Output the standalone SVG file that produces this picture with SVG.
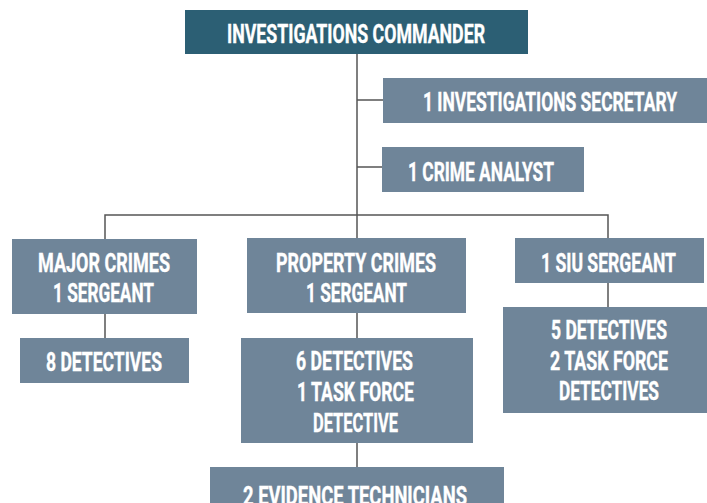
<svg xmlns="http://www.w3.org/2000/svg" width="707" height="503" viewBox="0 0 707 503">
<style>
.box{fill:#6f8599}
.top{fill:#2c5f74}
.t{font-family:Roboto,"Liberation Sans",sans-serif;font-weight:bold;font-size:26px;fill:#ffffff;stroke:#ffffff;stroke-width:0.4}
.ln{stroke:#555555;stroke-width:1.5;fill:none}
</style>
<rect width="707" height="503" fill="#ffffff"/>
<g id="connectors">
<path class="ln" d="M357 54 V215"/>
<path class="ln" d="M357 100 H383"/>
<path class="ln" d="M357 167 H382"/>
<path class="ln" d="M105 239 V215 H608 V238"/>
<path class="ln" d="M357 215 V238"/>
<path class="ln" d="M105 314 V338"/>
<path class="ln" d="M357 313 V338"/>
<path class="ln" d="M357 443 V467"/>
<path class="ln" d="M608 283 V307"/>
</g>
<g id="commander">
<rect class="top" x="185" y="10" width="343" height="44"/>
<text class="t" x="227" y="43" textLength="258" lengthAdjust="spacingAndGlyphs">INVESTIGATIONS COMMANDER</text>
</g>
<g id="secretary">
<rect class="box" x="383" y="78" width="324" height="45"/>
<text class="t" x="423" y="111" textLength="254" lengthAdjust="spacingAndGlyphs">1 INVESTIGATIONS SECRETARY</text>
</g>
<g id="analyst">
<rect class="box" x="382" y="147" width="202" height="45"/>
<text class="t" x="408" y="181" textLength="146" lengthAdjust="spacingAndGlyphs">1 CRIME ANALYST</text>
</g>
<g id="major">
<rect class="box" x="12" y="239" width="185" height="75"/>
<text class="t" x="38" y="272" textLength="132" lengthAdjust="spacingAndGlyphs">MAJOR CRIMES</text>
<text class="t" x="53" y="302" textLength="101" lengthAdjust="spacingAndGlyphs">1 SERGEANT</text>
</g>
<g id="major-det">
<rect class="box" x="20" y="338" width="169" height="45"/>
<text class="t" x="46" y="371" textLength="116" lengthAdjust="spacingAndGlyphs">8 DETECTIVES</text>
</g>
<g id="property">
<rect class="box" x="247" y="238" width="219" height="75"/>
<text class="t" x="276" y="272" textLength="160" lengthAdjust="spacingAndGlyphs">PROPERTY CRIMES</text>
<text class="t" x="306" y="302" textLength="101" lengthAdjust="spacingAndGlyphs">1 SERGEANT</text>
</g>
<g id="property-det">
<rect class="box" x="241" y="338" width="232" height="105"/>
<text class="t" x="296" y="370" textLength="117" lengthAdjust="spacingAndGlyphs">6 DETECTIVES</text>
<text class="t" x="297" y="401" textLength="117" lengthAdjust="spacingAndGlyphs">1 TASK FORCE</text>
<text class="t" x="313" y="432" textLength="85" lengthAdjust="spacingAndGlyphs">DETECTIVE</text>
</g>
<g id="evidence">
<rect class="box" x="210" y="467" width="294" height="40"/>
<text class="t" x="243" y="505" textLength="224" lengthAdjust="spacingAndGlyphs">2 EVIDENCE TECHNICIANS</text>
</g>
<g id="siu">
<rect class="box" x="515" y="238" width="189" height="45"/>
<text class="t" x="541" y="272" textLength="135" lengthAdjust="spacingAndGlyphs">1 SIU SERGEANT</text>
</g>
<g id="siu-det">
<rect class="box" x="503" y="307" width="204" height="106"/>
<text class="t" x="551" y="339" textLength="116" lengthAdjust="spacingAndGlyphs">5 DETECTIVES</text>
<text class="t" x="550" y="370" textLength="118" lengthAdjust="spacingAndGlyphs">2 TASK FORCE</text>
<text class="t" x="559" y="400" textLength="100" lengthAdjust="spacingAndGlyphs">DETECTIVES</text>
</g>
</svg>
